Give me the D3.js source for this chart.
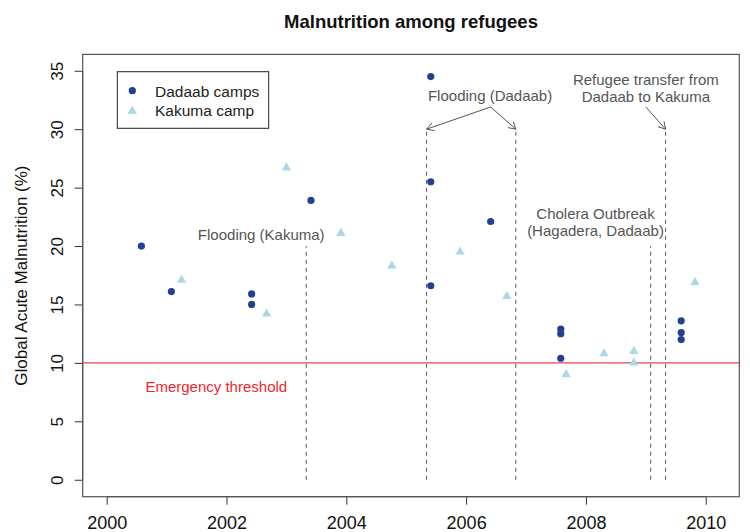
<!DOCTYPE html>
<html>
<head>
<meta charset="utf-8">
<script src="https://cdn.jsdelivr.net/npm/d3@7"></script>
<style>
  html, body { margin: 0; padding: 0; background: #fff; }
  svg text { font-family: "Liberation Sans", Arial, Helvetica, sans-serif; }
</style>
</head>
<body>
<svg id="chart" width="750" height="532"></svg>
<script>
// Survey dates (decimal years) and global acute malnutrition (%)
const dadaabYear = [2000.58, 2001.08, 2002.42, 2002.42, 2003.41, 2005.41, 2005.41, 2005.41, 2006.41, 2007.58, 2007.58, 2007.58, 2009.59, 2009.59, 2009.59];
const dadaabGAM  = [20.0, 16.1, 15.9, 15.0, 23.9, 34.5, 25.5, 16.6, 22.1, 12.9, 12.5, 10.4, 13.6, 12.6, 12.0];

const kakumaYear = [2001.25, 2002.67, 2003.0, 2003.91, 2004.76, 2005.9, 2006.68, 2007.67, 2008.3, 2008.8, 2008.8, 2009.82];
const kakumaGAM  = [17.1, 14.2, 26.7, 21.1, 18.3, 19.5, 15.7, 9.0, 10.8, 11.0, 10.0, 16.9];

// Events marked by dashed vertical segments
const eventYear = [2003.33, 2005.34, 2006.83, 2009.08, 2009.33];
const eventTop  = [20, 30, 30, 20, 30];

const threshold = 10;
const xTicks = [2000, 2002, 2004, 2006, 2008, 2010];
const yTicks = [0, 5, 10, 15, 20, 25, 30, 35];
const seriesNames = ["Dadaab camps", "Kakuma camp"];

const svg = d3.select("#chart");
const plot = { left: 82.7, right: 739.3, top: 54.4, bottom: 496.7 };

const x = d3.scaleLinear().domain([1999.6, 2010.56]).range([plot.left, plot.right]);
const y = d3.scaleLinear().domain([-1.45, 36.4]).range([plot.bottom, plot.top]);

const axisColor = "#333";
const noteColor = "#555";
const dadaabColor = "#233f8f";
const kakumaColor = "#a9d8e6";

// Title
svg.append("text")
  .attr("x", (plot.left + plot.right) / 2).attr("y", 28)
  .attr("text-anchor", "middle")
  .style("font-size", "18.5px").style("font-weight", "bold").style("fill", "#111")
  .text("Malnutrition among refugees");

// Axes
const xAxis = d3.axisBottom(x).tickValues(xTicks).tickFormat(d3.format("d")).tickSize(8).tickPadding(12);
const gx = svg.append("g").attr("transform", `translate(0,${plot.bottom})`).call(xAxis);
gx.select(".domain").attr("d", `M${x(xTicks[0])},0H${x(xTicks[xTicks.length - 1])}`).attr("stroke", axisColor);
gx.selectAll(".tick line").attr("stroke", axisColor);
gx.selectAll(".tick text").style("font-size", "18px").style("fill", "#111")
  .attr("dy", "0.71em");

const yAxis = d3.axisLeft(y).tickValues(yTicks).tickSize(8).tickPadding(0);
const gy = svg.append("g").attr("transform", `translate(${plot.left},0)`).call(yAxis);
gy.select(".domain").attr("d", `M0,${y(yTicks[0])}V${y(yTicks[yTicks.length - 1])}`).attr("stroke", axisColor);
gy.selectAll(".tick line").attr("stroke", axisColor);
gy.selectAll(".tick text")
  .attr("x", null).attr("dy", null)
  .attr("text-anchor", "middle")
  .attr("transform", "translate(-19.5,0) rotate(-90)")
  .style("font-size", "17px").style("fill", "#111");

// Y axis title
svg.append("text")
  .attr("transform", `translate(27,${(plot.top + plot.bottom) / 2}) rotate(-90)`)
  .attr("text-anchor", "middle")
  .style("font-size", "17px").style("fill", "#111")
  .text("Global Acute Malnutrition (%)");

// Plot frame
svg.append("rect")
  .attr("x", plot.left).attr("y", plot.top)
  .attr("width", plot.right - plot.left).attr("height", plot.bottom - plot.top)
  .attr("fill", "none").attr("stroke", "#555").attr("stroke-width", 1.2);

// Emergency threshold line
svg.append("line")
  .attr("x1", plot.left).attr("x2", plot.right)
  .attr("y1", y(threshold)).attr("y2", y(threshold))
  .attr("stroke", "#d81820").attr("stroke-width", 1);

svg.append("text")
  .attr("x", x(2001.83)).attr("y", y(8))
  .attr("text-anchor", "middle").attr("dominant-baseline", "central")
  .style("font-size", "15px").style("fill", "#f0262e")
  .text("Emergency threshold");

// Event segments
svg.selectAll("line.event")
  .data(eventYear.map((yr, i) => ({ yr, top: eventTop[i] })))
  .join("line").attr("class", "event")
  .attr("x1", d => x(d.yr)).attr("x2", d => x(d.yr))
  .attr("y1", y(0)).attr("y2", d => y(d.top))
  .attr("stroke", noteColor).attr("stroke-width", 1)
  .attr("stroke-dasharray", "4,4");

// Event annotations
const notes = [
  { lines: ["Flooding (Kakuma)"], yr: 2002.58, v: [20.95] },
  { lines: ["Flooding (Dadaab)"], yr: 2006.40, v: [32.9] },
  { lines: ["Refugee transfer from", "Dadaab to Kakuma"], yr: 2009.0, v: [34.23, 32.77] },
  { lines: ["Cholera Outbreak", "(Hagadera, Dadaab)"], yr: 2008.16, v: [22.8, 21.35] }
];
notes.forEach(n => {
  n.lines.forEach((t, i) => {
    svg.append("text")
      .attr("x", x(n.yr)).attr("y", y(n.v[i]))
      .attr("text-anchor", "middle").attr("dominant-baseline", "central")
      .style("font-size", "15px").style("fill", noteColor)
      .text(t);
  });
});

// Arrows pointing at event segments
const arrows = [
  { from: [2006.41, 31.9], to: [2005.34, 30] },
  { from: [2006.41, 31.9], to: [2006.83, 30] },
  { from: [2009.0, 31.9], to: [2009.33, 30] }
];
const headLen = 8, headAng = Math.PI / 6;
arrows.forEach(a => {
  const x0 = x(a.from[0]), y0 = y(a.from[1]);
  const x1 = x(a.to[0]), y1 = y(a.to[1]);
  const ang = Math.atan2(y1 - y0, x1 - x0);
  const p = d3.path();
  p.moveTo(x0, y0); p.lineTo(x1, y1);
  p.moveTo(x1 - headLen * Math.cos(ang - headAng), y1 - headLen * Math.sin(ang - headAng));
  p.lineTo(x1, y1);
  p.lineTo(x1 - headLen * Math.cos(ang + headAng), y1 - headLen * Math.sin(ang + headAng));
  svg.append("path").attr("d", p.toString())
    .attr("fill", "none").attr("stroke", noteColor).attr("stroke-width", 1);
});

// Kakuma points (triangles)
const tri = d3.symbol().type(d3.symbolTriangle).size(38);
svg.selectAll("path.kakuma")
  .data(kakumaYear.map((yr, i) => ({ yr, v: kakumaGAM[i] })))
  .join("path").attr("class", "kakuma")
  .attr("d", tri)
  .attr("transform", d => `translate(${x(d.yr)},${y(d.v)})`)
  .attr("fill", kakumaColor);

// Dadaab points (filled circles)
svg.selectAll("circle.dadaab")
  .data(dadaabYear.map((yr, i) => ({ yr, v: dadaabGAM[i] })))
  .join("circle").attr("class", "dadaab")
  .attr("cx", d => x(d.yr)).attr("cy", d => y(d.v))
  .attr("r", 3.6)
  .attr("fill", dadaabColor);

// Legend
const legend = svg.append("g");
legend.append("rect")
  .attr("x", 117.3).attr("y", 71.7).attr("width", 151.4).attr("height", 56.6)
  .attr("fill", "#fff").attr("stroke", "#222").attr("stroke-width", 1);
legend.append("circle").attr("cx", 132.3).attr("cy", 90.7).attr("r", 3.6).attr("fill", dadaabColor);
legend.append("path").attr("d", tri).attr("transform", "translate(132.3,111)").attr("fill", kakumaColor);
seriesNames.forEach((name, i) => {
  legend.append("text")
    .attr("x", 155).attr("y", 91.5 + i * 19.3)
    .attr("dominant-baseline", "central")
    .style("font-size", "15.5px").style("fill", "#222")
    .text(name);
});
</script>
</body>
</html>
